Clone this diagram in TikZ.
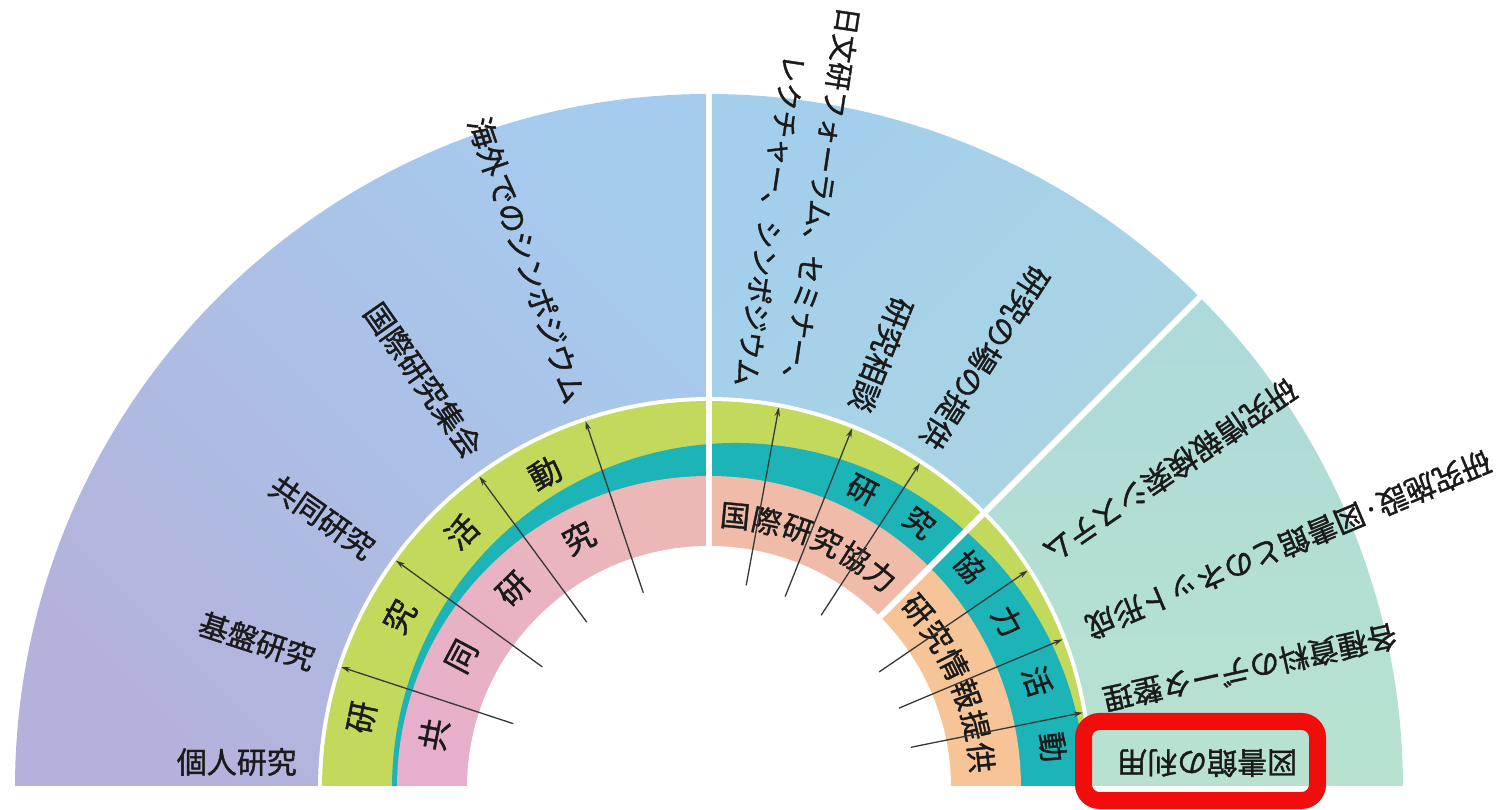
\documentclass[tikz,border=0pt]{standalone}
\usepackage{fontspec}
\setmainfont{Noto Sans CJK JP}[FakeBold=1.2]
\usetikzlibrary{arrows.meta}
\definecolor{outLa}{HTML}{A5CBEE}
\definecolor{outLb}{HTML}{B4B2DC}
\definecolor{outUa}{HTML}{A4CFEC}
\definecolor{outUb}{HTML}{ACD8DE}
\definecolor{outDa}{HTML}{ADDADA}
\definecolor{outDb}{HTML}{B8E2CF}
\definecolor{grn}{HTML}{C3D95B}
\definecolor{tealc}{HTML}{1CB4B6}
\definecolor{pnka}{HTML}{EBB8B7}
\definecolor{pnkb}{HTML}{E7AFCB}
\definecolor{salm}{HTML}{F0BBA8}
\definecolor{peach}{HTML}{F6C497}
\definecolor{txt}{HTML}{1A1A1A}
\definecolor{arrc}{HTML}{383838}
\definecolor{redbox}{HTML}{F20D0D}
\begin{document}
\begin{tikzpicture}[x=1pt,y=1pt,
  declare function={ro(\t)=387-max(0,40-\t)*0.2; rb(\t)=344+27*cos(\t)+6*max(0,45-\t)/45;},
  lbl/.style={font=\fontsize{30}{34}\selectfont, text=txt, inner sep=0pt, anchor=east},
  rchar/.style={font=\fontsize{32}{36}\selectfont, text=txt, inner sep=0pt},
  tchar/.style={font=\fontsize{30}{34}\selectfont, text=txt, inner sep=0pt},
  arr/.style={draw=arrc, line width=1.3pt, -{Stealth[length=9pt,width=5.5pt]}},
  sepline/.style={draw=white, line width=6pt}
]
\useasboundingbox (-709,-21) rectangle (788,788);
\begin{scope}
\clip (-709,3) rectangle (788,788);
% outer sectors
\shade[top color=outLa, bottom color=outLb, shading angle=-45] (0,0) -- (90:694) arc[start angle=90, end angle=180, radius=694] -- cycle;
\shade[top color=outUa, bottom color=outUb, shading angle=45] (0,0) -- (45:694) arc[start angle=45, end angle=90, radius=694] -- cycle;
\shade[top color=outDa, bottom color=outDb] (0,0) -- (0:694) arc[start angle=0, end angle=45, radius=694] -- cycle;
% white gap, green ring, teal ring
\fill[white] plot[domain=0:180, samples=121, variable=\t] (\t:{ro(\t)+4}) -- cycle;
\fill[grn] plot[domain=0:180, samples=121, variable=\t] (\t:{ro(\t)}) -- cycle;
\fill[tealc] plot[domain=0:180, samples=121, variable=\t] (\t:{rb(\t)}) -- cycle;
% inner ring sectors
\shade[top color=pnka, bottom color=pnkb, shading angle=-45] (0,0) -- (90:312) arc[start angle=90, end angle=180, radius=312] -- cycle;
\fill[salm] (0,0) -- (45:312) arc[start angle=45, end angle=90, radius=312] -- cycle;
\fill[peach] (0,0) -- (0:312) arc[start angle=0, end angle=45, radius=312] -- cycle;
\fill[white] (0,0) circle[radius=242];
% separators
\draw[sepline] (0,0) -- (90:700);
\draw[sepline] (0,0) -- (45:700);
\end{scope}

% ring characters: green ring
\node[rchar, rotate=78.5] (g1) at (168.5:354) {研};
\node[rchar, rotate=61] (g2) at (151:354) {究};
\node[rchar, rotate=44] (g3) at (134:356) {活};
\node[rchar, rotate=27.5] (g4) at (117.5:355) {動};
% pink ring
\node[rchar, rotate=79] (p1) at (169:280) {共};
\node[rchar, rotate=62] (p2) at (152:280) {同};
\node[rchar, rotate=44.5] (p3) at (134.5:279) {研};
\node[rchar, rotate=27.5] (p4) at (117.5:282) {究};
% salmon ring
\node[tchar, rotate=-5.5] (s1) at (84.5:273) {国};
\node[tchar, rotate=-12.2] (s2) at (77.8:273) {際};
\node[tchar, rotate=-18.9] (s3) at (71.1:273) {研};
\node[tchar, rotate=-25.6] (s4) at (64.4:273) {究};
\node[tchar, rotate=-32.3] (s5) at (57.7:273) {協};
\node[tchar, rotate=-39] (s6) at (51:273) {力};
% peach ring
\node[tchar, rotate=-49.6] (q1) at (40.4:274) {研};
\node[tchar, rotate=-56.4] (q2) at (33.6:274) {究};
\node[tchar, rotate=-63.2] (q3) at (26.8:274) {情};
\node[tchar, rotate=-70] (q4) at (20:274) {報};
\node[tchar, rotate=-76.8] (q5) at (13.2:274) {提};
\node[tchar, rotate=-83.6] (q6) at (6.4:274) {供};
% teal ring
\node[tchar, rotate=-27.2] (t1) at (62.8:335) {研};
\node[tchar, rotate=-38.4] (t2) at (51.6:339) {究};
\node[tchar, rotate=-49.6] (t3) at (40.4:342) {協};
\node[tchar, rotate=-60.8] (t4) at (29.2:342) {力};
\node[tchar, rotate=-72] (t5) at (18:345) {活};
\node[tchar, rotate=-83.2] (t6) at (6.8:346) {動};

% arrows
\foreach \n/\a in {a1/161.8, a2/144, a3/126.4, a4/108.6, b1/79.6, b2/68.3, b3/57, c1/34.3, c2/22.8, c3/11.4}{
  \coordinate (\n s) at (\a:206);
  \coordinate (\n e) at (\a:{ro(\a)});
}
\draw[arr] (a1s) -- (a1e);
\draw[arr] (a2s) -- (a2e);
\draw[arr] (a3s) -- (a3e);
\draw[arr] (a4s) -- (a4e);
\draw[arr] (b1s) -- (b1e);
\draw[arr] (b2s) -- (b2e);
\draw[arr] (b3s) -- (b3e);
\draw[arr] (c1s) -- (c1e);
\draw[arr] (c2s) -- (c2e);
\draw[arr] (c3s) -- (c3e);

% labels
\node[lbl, rotate=0] (l1) at (-412,26) {個人研究};
\node[lbl, rotate=342] (l2) at (162:415) {基盤研究};
\node[lbl, rotate=325] (l3) at (145:412) {共同研究};
\node[lbl, rotate=305] (l4) at (125:408) {国際研究集会};
\node[lbl, rotate=289] (l5) at (109:408) {海外でのシンポジウム};
\node[lbl, rotate=261.5, align=right, font=\fontsize{28}{47}\selectfont] (l6) at (81.5:402) {日文研フォーラム、セミナー、\\レクチャー、シンポジウム};
\node[lbl, rotate=248.3] (l7) at (68.3:406) {研究相談};
\node[lbl, rotate=237.3] (l8) at (57.3:406) {研究の場の提供};
\node[lbl, rotate=214.5] (l9) at (34.5:410) {研究情報検索システム};
\node[lbl, rotate=202.8] (l10) at (22.8:410) {研究施設·図書館とのネット形成};
\node[lbl, rotate=192.5] (l11) at (12.5:404) {各種資料のデータ整理};
\node[lbl, rotate=180] (l12) at (408,25) {図書館の利用};

% red highlight box
\draw[draw=redbox, line width=17pt, rounded corners=16pt] (374.5,66.5) rectangle (608.5,-12.5);
\end{tikzpicture}
\end{document}
